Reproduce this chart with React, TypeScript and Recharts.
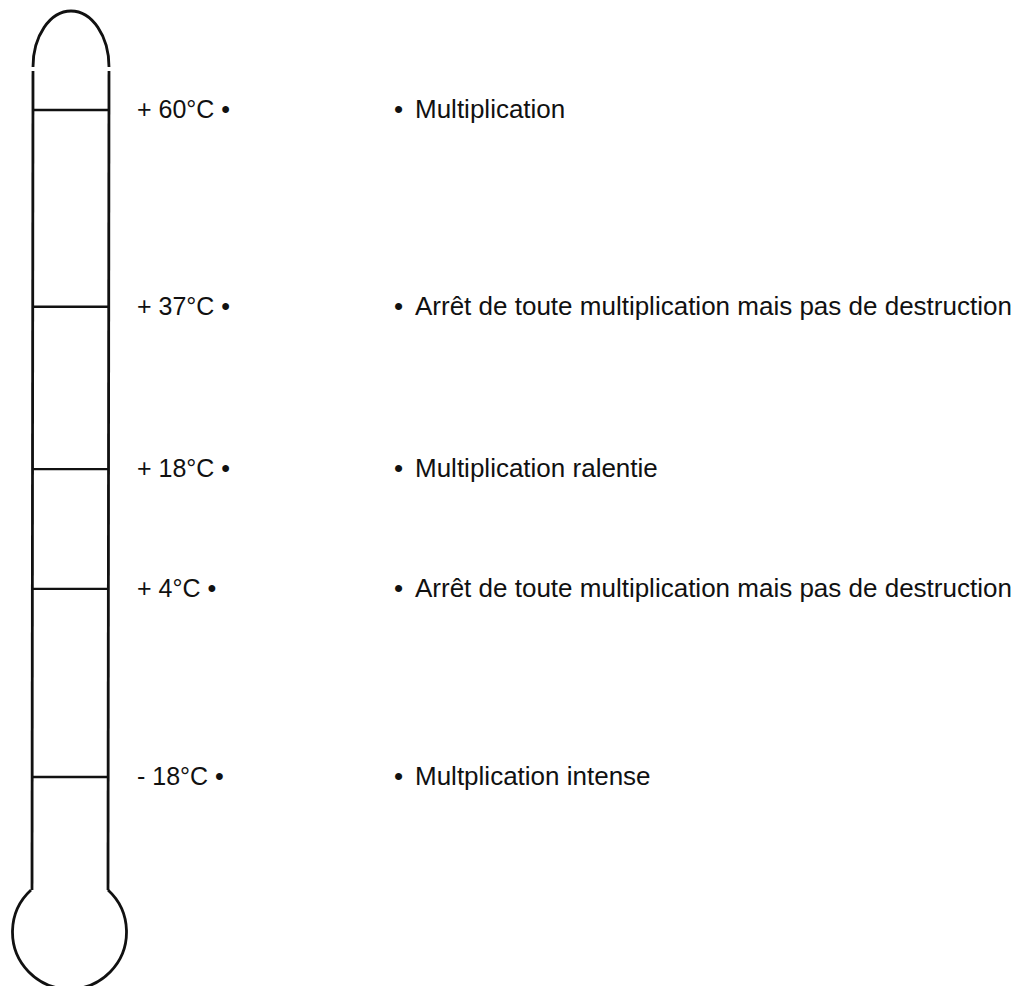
import { ComposedChart, XAxis, YAxis, ReferenceLine, Scatter } from 'recharts'

// thermometer graduations, top to bottom
const temperatures = [60, 37, 18, 4, -18]
const tempLabels = ['+ 60°C', '+ 37°C', '+ 18°C', '+ 4°C', '- 18°C']
const effects = [
  'Multiplication',
  'Arrêt de toute multiplication mais pas de destruction',
  'Multiplication ralentie',
  'Arrêt de toute multiplication mais pas de destruction',
  'Multplication intense',
]

const rows = temperatures.map((t, i) => ({ t, label: tempLabels[i], effect: effects[i] }))

const INK = '#111'
const FONT = '"Liberation Sans", Arial, sans-serif'

// labels sit to the right of the tube: "+ 60°C •"   "• Multiplication"
const ThermoTick = ({ x, y, payload }: any) => {
  const i = temperatures.indexOf(payload.value)
  if (i < 0) return null
  return (
    <g fontFamily={FONT} fill={INK}>
      <text x={x + 29} y={y} dy={8} fontSize={25}>
        {tempLabels[i]} •
      </text>
      <text x={x + 286} y={y} dy={8} fontSize={26}>•</text>
      <text x={x + 307} y={y} dy={8} fontSize={26}>
        {effects[i]}
      </text>
    </g>
  )
}

// glass outline of the thermometer (decoration, aligned to the plot area)
const Glass = () => (
  <svg width={1030} height={986} style={{ position: 'absolute', left: 0, top: 0, pointerEvents: 'none' }}>
    <g fill="none" stroke={INK} strokeWidth={2.8}>
      <path d="M 33 67 A 38 56 0 0 1 109 67" />
      <path d="M 33 71 L 32 890" />
      <path d="M 109 71 L 108 890" />
      <path d="M 31 890 A 57 57 0 1 0 108 890" />
    </g>
  </svg>
)

export default function App() {
  return (
    <div style={{ position: 'absolute', left: 0, top: 0, width: 1030, height: 986, background: '#fff' }}>
      <ComposedChart
        width={1030}
        height={986}
        data={rows}
        margin={{ top: 110, right: 0, bottom: 209, left: 33 }}
      >
        <XAxis type="category" dataKey="label" hide />
        <YAxis
          type="number"
          dataKey="t"
          orientation="right"
          domain={[-18, 60]}
          ticks={temperatures}
          interval={0}
          width={922}
          axisLine={false}
          tickLine={false}
          tickSize={0}
          tickMargin={0}
          tick={<ThermoTick />}
        />
        <Scatter dataKey="t" isAnimationActive={false} shape={() => <g />} />
        {temperatures.map(t => (
          <ReferenceLine key={t} y={t} stroke={INK} strokeWidth={2.4} isFront />
        ))}
      </ComposedChart>
      <Glass />
    </div>
  )
}
